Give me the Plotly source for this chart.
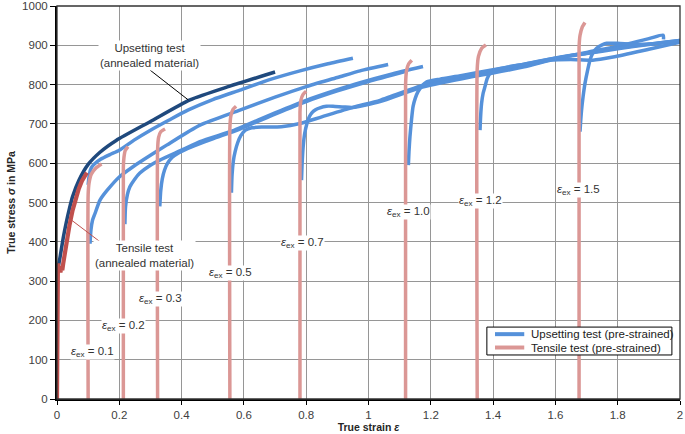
import plotly.graph_objects as go

# ---------------- data ----------------
# annealed upsetting test (dark blue)
ann_up_x = [0.005, 0.010, 0.020, 0.030, 0.040, 0.050, 0.070, 0.100, 0.138, 0.190, 0.300, 0.427, 0.555, 0.700]
ann_up_y = [340, 362, 410, 450, 485, 515, 556, 597, 628, 658, 706, 761, 796, 832]

# annealed tensile test (red)
ann_te_x = [0.000, 0.002, 0.003, 0.005, 0.008, 0.011, 0.014, 0.017, 0.020, 0.030, 0.040, 0.050, 0.060, 0.070, 0.080, 0.090, 0.096]
ann_te_y = [0, 300, 345, 325, 338, 322, 336, 328, 345, 400, 442, 480, 510, 535, 555, 568, 576]

# tensile tests of pre-strained material (pink)
te01_x = [0.100, 0.100, 0.103, 0.110, 0.125, 0.143]
te01_y = [0, 520, 550, 572, 588, 598]
te02_x = [0.213, 0.213, 0.215, 0.219, 0.228]
te02_y = [0, 590, 615, 632, 642]
te03_x = [0.323, 0.323, 0.326, 0.333, 0.347]
te03_y = [0, 635, 665, 680, 687]
te05_x = [0.555, 0.555, 0.558, 0.565, 0.575]
te05_y = [0, 690, 720, 737, 745]
te07_x = [0.780, 0.780, 0.783, 0.790, 0.800]
te07_y = [0, 730, 760, 775, 783]
te10_x = [1.119, 1.119, 1.122, 1.129, 1.139]
te10_y = [0, 800, 835, 853, 862]
te12_x = [1.349, 1.349, 1.353, 1.363, 1.377]
te12_y = [0, 840, 872, 892, 901]
te15_x = [1.676, 1.676, 1.679, 1.686, 1.695]
te15_y = [0, 895, 925, 946, 958]

# upsetting tests of pre-strained material (blue)
upA_x = [0.100, 0.104, 0.110, 0.120, 0.140, 0.170, 0.200, 0.250, 0.300, 0.360, 0.420, 0.500, 0.587, 0.680, 0.780, 0.870, 0.950]
upA_y = [545, 572, 588, 598, 610, 622, 633, 660, 684, 710, 735, 762, 786, 812, 835, 853, 867]
upB_x = [0.106, 0.109, 0.114, 0.122, 0.138, 0.160, 0.200, 0.244, 0.300, 0.352, 0.459, 0.587, 0.700, 0.800, 0.900, 0.973, 1.063]
upB_y = [395, 430, 455, 472, 506, 530, 565, 591, 620, 646, 697, 735, 768, 795, 818, 835, 851]
upC_x = [0.218, 0.220, 0.226, 0.234, 0.250, 0.266, 0.300, 0.330, 0.405, 0.459, 0.555, 0.587, 0.700, 0.800, 0.900, 0.973, 1.070, 1.175]
upC_y = [445, 489, 520, 540, 560, 575, 595, 608, 635, 655, 680, 690, 728, 760, 787, 805, 826, 846]
upD_x = [0.330, 0.333, 0.338, 0.345, 0.355, 0.370, 0.390, 0.410, 0.440, 0.500, 0.587, 0.700, 0.800, 0.900, 1.000, 1.120]
upD_y = [490, 530, 560, 582, 600, 615, 626, 634, 644, 662, 687, 725, 757, 784, 808, 834]
upE_x = [0.560, 0.562, 0.566, 0.572, 0.580, 0.590, 0.605, 0.625, 0.660, 0.720, 0.780, 0.850, 0.950, 1.037, 1.165, 1.230, 1.390, 1.500, 1.600, 1.700, 1.800, 1.900, 1.946, 1.947]
upE_y = [525, 570, 605, 630, 652, 670, 684, 690, 692, 693, 701, 718, 742, 760, 796, 810, 832, 848, 866, 882, 898, 917, 926, 915]
upF_x = [0.785, 0.787, 0.790, 0.795, 0.802, 0.810, 0.818, 0.830, 0.844, 0.865, 0.886, 0.920, 0.950, 1.037, 1.165, 1.300, 1.390, 1.500, 1.583, 1.650, 1.720, 1.785, 1.900, 2.000]
upF_y = [557, 600, 640, 675, 700, 718, 728, 736, 741, 745, 745, 743, 742, 757, 792, 815, 828, 845, 862, 864, 862, 870, 890, 908]
upG_x = [1.128, 1.130, 1.133, 1.138, 1.143, 1.150, 1.159, 1.172, 1.187, 1.230, 1.300, 1.400, 1.500, 1.600, 1.700, 1.800, 1.900, 2.000]
upG_y = [595, 630, 667, 710, 744, 765, 782, 797, 807, 814, 823, 838, 852, 868, 880, 893, 903, 912]
upH_x = [1.358, 1.360, 1.363, 1.368, 1.374, 1.381, 1.390, 1.410, 1.450, 1.500, 1.600, 1.700, 1.800, 1.900, 2.000]
upH_y = [684, 720, 752, 778, 795, 815, 829, 838, 845, 852, 867, 879, 891, 902, 911]
upI_x = [1.679, 1.681, 1.684, 1.689, 1.695, 1.703, 1.711, 1.720, 1.733, 1.750, 1.765, 1.800, 1.850, 1.900, 1.950, 2.000]
upI_y = [680, 705, 735, 770, 803, 835, 862, 880, 893, 901, 905, 905, 902, 903, 908, 912]

# pre-strain labels
ex_labels = ["0.1", "0.2", "0.3", "0.5", "0.7", "1.0", "1.2", "1.5"]
ex_label_x = [0.115, 0.2145, 0.332, 0.557, 0.788, 1.128, 1.36, 1.673]
ex_label_y = [120, 186, 254, 321, 398, 475, 503, 531]

x_ticks = [0, 0.2, 0.4, 0.6, 0.8, 1.0, 1.2, 1.4, 1.6, 1.8, 2.0]
y_ticks = [0, 100, 200, 300, 400, 500, 600, 700, 800, 900, 1000]

BLUE = "#5591DA"
PINK = "#DB9795"
NAVY = "#1F497D"
RED = "#C0504D"
FONT = "Liberation Sans, Arial, sans-serif"

fig = go.Figure()

blue_sets = [(upA_x, upA_y), (upB_x, upB_y), (upC_x, upC_y), (upD_x, upD_y), (upE_x, upE_y),
             (upF_x, upF_y), (upG_x, upG_y), (upH_x, upH_y), (upI_x, upI_y)]
for bx, by in blue_sets:
    fig.add_trace(go.Scatter(x=bx, y=by, mode="lines", line=dict(color=BLUE, width=3.5, shape="spline", smoothing=0.6),
                             name="Upsetting test (pre-strained)", showlegend=False, hoverinfo="skip"))

fig.add_trace(go.Scatter(x=ann_up_x, y=ann_up_y, mode="lines", line=dict(color=NAVY, width=3.5, shape="spline", smoothing=0.6),
                         name="Upsetting test (annealed material)", showlegend=False))

pink_sets = [(te01_x, te01_y), (te02_x, te02_y), (te03_x, te03_y), (te05_x, te05_y),
             (te07_x, te07_y), (te10_x, te10_y), (te12_x, te12_y), (te15_x, te15_y)]
for px, py in pink_sets:
    fig.add_trace(go.Scatter(x=px, y=py, mode="lines", line=dict(color=PINK, width=3.5, shape="spline", smoothing=0.5),
                             name="Tensile test (pre-strained)", showlegend=False))

fig.add_trace(go.Scatter(x=ann_te_x, y=ann_te_y, mode="lines", line=dict(color=RED, width=4.2),
                         name="Tensile test (annealed material)", showlegend=False))

annotations = []
for lab, lx, ly in zip(ex_labels, ex_label_x, ex_label_y):
    annotations.append(dict(x=lx, y=ly, xref="x", yref="y", showarrow=False,
                            text="<i>ε</i><sub>ex</sub> = " + lab,
                            font=dict(family=FONT, size=11.5, color="#333333"),
                            bgcolor="white", borderpad=0))

annotations.append(dict(x=0.297, y=875, xref="x", yref="y", showarrow=False,
                        text="Upsetting test<br>(annealed material)",
                        font=dict(family=FONT, size=11.5, color="#333333"), bgcolor="white", borderpad=1))
annotations.append(dict(x=0.2815, y=366, xref="x", yref="y", showarrow=False,
                        text="Tensile test<br>(annealed material)",
                        font=dict(family=FONT, size=11.5, color="#333333"), bgcolor="white", borderpad=1))

# legend (drawn manually to match compact box)
annotations.append(dict(x=0.757, y=0.165, xref="paper", yref="paper", xanchor="left", yanchor="middle", showarrow=False,
                        text="Upsetting test (pre-strained)", font=dict(family=FONT, size=11.5, color="#222222")))
annotations.append(dict(x=0.757, y=0.131, xref="paper", yref="paper", xanchor="left", yanchor="middle", showarrow=False,
                        text="Tensile test (pre-strained)", font=dict(family=FONT, size=11.5, color="#222222")))

shapes = [
    dict(type="line", xref="x", yref="y", x0=0.2986, y0=837, x1=0.4215, y1=761, line=dict(color="black", width=1)),
    dict(type="line", xref="x", yref="y", x0=0.170, y0=381, x1=0.047, y1=455, line=dict(color=RED, width=1)),
    dict(type="rect", xref="paper", yref="paper", x0=0.690, y0=0.112, x1=0.987, y1=0.183,
         line=dict(color="black", width=1), fillcolor="white", layer="above"),
    dict(type="line", xref="paper", yref="paper", x0=0.703, y0=0.165, x1=0.750, y1=0.165, line=dict(color=BLUE, width=4)),
    dict(type="line", xref="paper", yref="paper", x0=0.703, y0=0.131, x1=0.750, y1=0.131, line=dict(color=PINK, width=4)),
    dict(type="rect", xref="paper", yref="paper", x0=0, y0=0, x1=1, y1=1, line=dict(color="#333333", width=1.3), layer="above"),
]

fig.update_layout(
    width=685, height=434,
    margin=dict(l=57, r=5, t=6, b=35, autoexpand=False),
    paper_bgcolor="white", plot_bgcolor="white",
    showlegend=False,
    font=dict(family=FONT, size=11.5, color="#404040"),
    annotations=annotations, shapes=shapes,
)
fig.update_xaxes(range=[0, 2], tickvals=x_ticks, ticktext=[f"{v:g}" for v in x_ticks], automargin=False,
                 showgrid=True, gridcolor="#969696", gridwidth=1.2, zeroline=False,
                 showline=True, linecolor="black", linewidth=2, ticks="outside", ticklen=4, tickcolor="black",
                 title=dict(text="<b>True strain <i>ε</i></b>", font=dict(family=FONT, size=10.5, color="#262626"), standoff=2))
fig.update_yaxes(range=[0, 1000], tickvals=y_ticks, automargin=False,
                 showgrid=True, gridcolor="#969696", gridwidth=1.2, zeroline=False,
                 showline=True, linecolor="black", linewidth=2, ticks="outside", ticklen=5, tickcolor="black",
                 title=dict(text="<b>True stress <i>σ</i> in MPa</b>", font=dict(family=FONT, size=10.5, color="#262626"), standoff=4))

fig.write_html("out.html", config={"displayModeBar": False},
               post_script="document.body.style.margin='0';document.body.style.padding='0';")
